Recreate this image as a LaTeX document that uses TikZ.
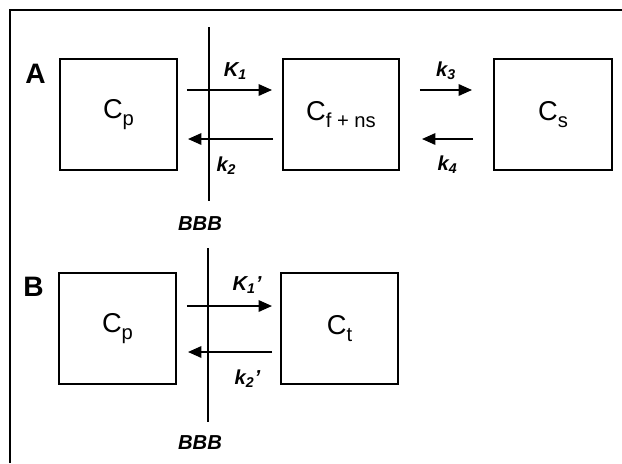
\documentclass[tikz,border=0pt]{standalone}
\usepackage{fontspec}
\setmainfont{Liberation Sans}
\usetikzlibrary{calc, positioning, arrows.meta}
\newcommand{\csub}[1]{\raisebox{-0.45ex}{\fontsize{11.5}{12}\selectfont #1}}

\begin{document}
\begin{tikzpicture}[
  font=\fontsize{15.5}{17}\selectfont,
  comp/.style={draw, line width=1.1pt, minimum width=2.34cm, minimum height=2.22cm, inner sep=0pt},
  flux/.style={line width=1.1pt, -{Triangle[length=0.27cm, width=0.23cm]}},
  rate/.style={font=\fontsize{11.5}{13}\selectfont\bfseries\itshape, inner sep=1pt},
  panel/.style={font=\fontsize{16}{18}\selectfont\bfseries},
  bbb/.style={font=\fontsize{11.5}{13}\selectfont\bfseries\itshape, inner sep=1pt}
]
\useasboundingbox (0,0) rectangle (12.44,-9.26);
\draw[line width=1.2pt] (0.2,-9.26) -- (0.2,-0.2) -- (12.44,-0.2);

% panel A
\node[panel] (lblA) at (0.71,-1.48) {A};
\node[comp] (cpA) at (2.37,-2.29) {C\csub{p}};
\node[comp, minimum width=2.32cm] (cfns) at (6.82,-2.29) {C\csub{f + ns}};
\node[comp, minimum width=2.36cm] (cs) at (11.06,-2.29) {C\csub{s}};
\coordinate (bbbAtop) at (4.18,-0.54);
\coordinate (bbbAbot) at (4.18,-4.02);
\draw[line width=0.6pt] (bbbAtop) -- (bbbAbot);
\node[bbb] (bbbA) at (4.0,-4.48) {BBB};
\draw[flux] ([shift={(0.18,0.49)}]cpA.east) -- node[rate, above=0.15cm, xshift=0.12cm] (kA1) {K\textsubscript{1}} ([shift={(-0.2,0.49)}]cfns.west);
\draw[flux] ([shift={(-0.18,-0.49)}]cfns.west) -- node[rate, below=0.3cm, xshift=-0.08cm] (kA2) {k\textsubscript{2}} ([shift={(0.2,-0.49)}]cpA.east);
\draw[flux] ([shift={(0.4,0.49)}]cfns.east) -- node[rate, above=0.15cm] (kA3) {k\textsubscript{3}} ([shift={(-0.42,0.49)}]cs.west);
\draw[flux] ([shift={(-0.4,-0.49)}]cs.west) -- node[rate, below=0.28cm] (kA4) {k\textsubscript{4}} ([shift={(0.44,-0.49)}]cfns.east);

% panel B
\node[panel] (lblB) at (0.67,-5.74) {B};
\node[comp] (cpB) at (2.35,-6.57) {C\csub{p}};
\node[comp] (ct) at (6.79,-6.57) {C\csub{t}};
\coordinate (bbbBtop) at (4.16,-4.96);
\coordinate (bbbBbot) at (4.16,-8.44);
\draw[line width=0.6pt] (bbbBtop) -- (bbbBbot);
\node[bbb] (bbbB) at (4.0,-8.86) {BBB};
\draw[flux] ([shift={(0.2,0.45)}]cpB.east) -- node[rate, above=0.2cm, xshift=0.35cm] (kB1) {K\textsubscript{1}'} ([shift={(-0.16,0.45)}]ct.west);
\draw[flux] ([shift={(-0.16,-0.47)}]ct.west) -- node[rate, below=0.3cm, xshift=0.35cm] (kB2) {k\textsubscript{2}'} ([shift={(0.22,-0.47)}]cpB.east);
\end{tikzpicture}
\end{document}
